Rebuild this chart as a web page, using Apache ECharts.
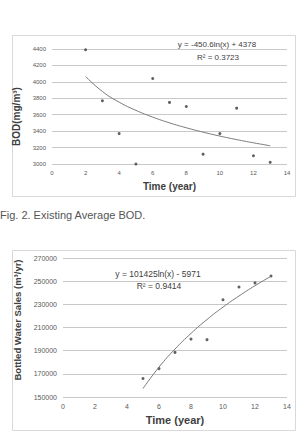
<!DOCTYPE html>
<html>
<head>
<meta charset="utf-8">
<script src="https://cdn.jsdelivr.net/npm/echarts@6/dist/echarts.min.js"></script>
<style>
html, body { margin: 0; padding: 0; background: #fff; }
#chart { width: 300px; height: 434px; }
</style>
</head>
<body>
<div id="chart"></div>
<script>
// Fig. 2 - BOD over time
const bodYears = [2, 3, 4, 5, 6, 7, 8, 9, 10, 11, 12, 13];
const bodValues = [4390, 3770, 3370, 3000, 4040, 3750, 3700, 3120, 3370, 3680, 3100, 3020];
const bodTrend = [4066, 3883, 3753, 3653, 3571, 3501, 3441, 3388, 3340, 3297, 3258, 3222];
const bodTicks = [3000, 3200, 3400, 3600, 3800, 4000, 4200, 4400];

// bottled water sales over time
const salesYears = [5, 6, 7, 8, 9, 10, 11, 12, 13];
const salesValues = [166000, 174500, 188500, 200000, 199500, 234000, 245000, 248500, 254500];
const salesTrend = [157300, 175800, 191400, 204900, 216900, 227600, 237200, 246100, 254200];
const salesTicks = [150000, 170000, 190000, 210000, 230000, 250000, 270000];

const yearTicks = [0, 2, 4, 6, 8, 10, 12, 14];

const FONT = 'Liberation Sans';
const pairs = (xs, ys) => xs.map((x, i) => [x, ys[i]]);

const chart = echarts.init(document.getElementById('chart'), null, { renderer: 'svg' });

const gridLine = { show: true, lineStyle: { color: '#c8c8c8', width: 1 } };

function xAxis(gridIndex, labelSize, nameSize, gap) {
  return {
    type: 'value', gridIndex,
    min: yearTicks[0], max: yearTicks[yearTicks.length - 1],
    interval: yearTicks[1] - yearTicks[0],
    axisLine: { show: false }, axisTick: { show: false }, splitLine: { show: false },
    axisLabel: { fontSize: labelSize, color: '#595959', fontFamily: FONT, margin: 6 },
    name: 'Time (year)', nameLocation: 'middle', nameGap: gap,
    nameTextStyle: { fontSize: nameSize, fontWeight: 'bold', color: '#404040', fontFamily: FONT }
  };
}

function yAxis(gridIndex, ticks, name, labelSize, nameStyle, gap) {
  return {
    type: 'value', gridIndex,
    min: ticks[0], max: ticks[ticks.length - 1], interval: ticks[1] - ticks[0],
    axisLine: { show: false }, axisTick: { show: false },
    splitLine: gridLine,
    axisLabel: { fontSize: labelSize, color: '#595959', fontFamily: FONT, margin: 6,
      formatter: v => String(v) },
    name, nameLocation: 'middle', nameGap: gap,
    nameTextStyle: Object.assign({ fontWeight: 'bold', color: '#404040', fontFamily: FONT }, nameStyle)
  };
}

const dots = { symbol: 'circle', symbolSize: 3, itemStyle: { color: '#3a3a3a' } };
const trend = { type: 'line', showSymbol: false, smooth: true, lineStyle: { color: '#7a7a7a', width: 1 }, silent: true };

chart.setOption({
  animation: false,
  grid: [
    { left: 52, right: 13, top: 49, bottom: 270 },
    { left: 63, right: 13, top: 258, bottom: 37 }
  ],
  xAxis: [xAxis(0, 6, 10, 17), xAxis(1, 7, 11, 17)],
  yAxis: [
    yAxis(0, bodTicks, 'BOD(mg/m\u00B3)', 6, { fontSize: 10, padding: [0, 20, 0, 0] }, 25),
    yAxis(1, salesTicks, 'Bottled Water Sales (m\u00B3/yr)', 7, { fontSize: 9.5, padding: [0, 0, 0, 15] }, 31)
  ],
  series: [
    Object.assign({ type: 'scatter', xAxisIndex: 0, yAxisIndex: 0, data: pairs(bodYears, bodValues) }, dots),
    Object.assign({ xAxisIndex: 0, yAxisIndex: 0, data: pairs(bodYears, bodTrend) }, trend),
    Object.assign({ type: 'scatter', xAxisIndex: 1, yAxisIndex: 1, data: pairs(salesYears, salesValues) }, dots),
    Object.assign({ xAxisIndex: 1, yAxisIndex: 1, data: pairs(salesYears, salesTrend) }, trend)
  ],
  graphic: [
    { type: 'rect', shape: { x: 12.5, y: 35.5, width: 283, height: 161 },
      style: { fill: 'none', stroke: '#d9d9d9', lineWidth: 1 }, silent: true },
    { type: 'rect', shape: { x: 12.5, y: 250.5, width: 283, height: 180 },
      style: { fill: 'none', stroke: '#d9d9d9', lineWidth: 1 }, silent: true },
    { type: 'text', x: 217, y: 44, style: { text: 'y = -450.6ln(x) + 4378', font: '8px ' + FONT,
      fill: '#404040', align: 'center', verticalAlign: 'middle' } },
    { type: 'text', x: 218, y: 57, style: { text: 'R\u00B2 = 0.3723', font: '8px ' + FONT,
      fill: '#404040', align: 'center', verticalAlign: 'middle' } },
    { type: 'text', x: 158, y: 274, style: { text: 'y = 101425ln(x) - 5971', font: '8.5px ' + FONT,
      fill: '#404040', align: 'center', verticalAlign: 'middle' } },
    { type: 'text', x: 159, y: 286, style: { text: 'R\u00B2 = 0.9414', font: '8.5px ' + FONT,
      fill: '#404040', align: 'center', verticalAlign: 'middle' } },
    { type: 'text', x: 0, y: 215, style: { text: 'Fig. 2. Existing Average BOD.', font: '11px ' + FONT,
      fill: '#555555', align: 'left', verticalAlign: 'middle' } }
  ]
});
</script>
</body>
</html>
